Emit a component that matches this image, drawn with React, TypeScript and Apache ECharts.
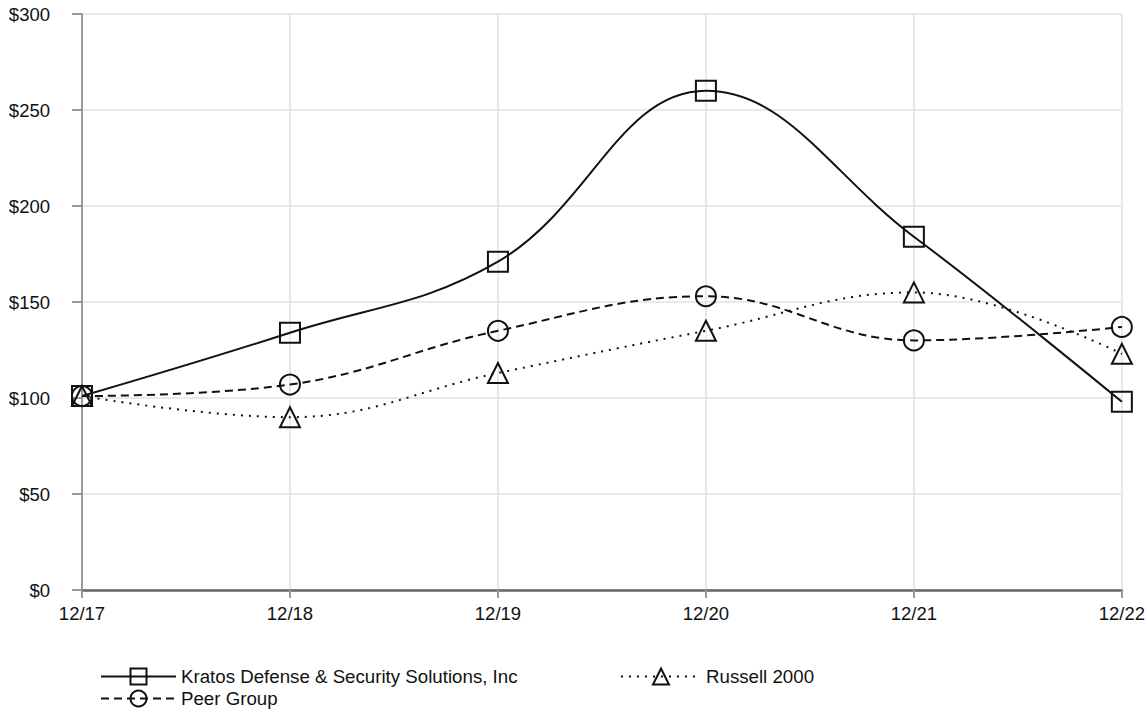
import React, { useEffect, useRef } from "react";
import * as echarts from "echarts";

const categories = ["12/17", "12/18", "12/19", "12/20", "12/21", "12/22"];
const kratos = [101, 134, 171, 260, 184, 98];
const peer = [101, 107, 135, 153, 130, 137];
const russell = [101, 90, 113, 135, 155, 123];
const seriesNames = ["Kratos Defense & Security Solutions, Inc", "Peer Group", "Russell 2000"];

export default function App() {
  const ref = useRef<HTMLDivElement>(null);
  useEffect(() => {
    const chart = echarts.init(ref.current!, null, { renderer: "svg" });
    const font = "Liberation Sans, Arial, sans-serif";
    const mk = (name: string, data: number[], symbol: string, type: any) => ({
      name,
      type: "line",
      data,
      smooth: 0.4,
      symbol,
      symbolSize: 20,
      showSymbol: true,
      lineStyle: { color: "#111", width: 2, type },
      itemStyle: { color: "rgba(0,0,0,0)", borderColor: "#111", borderWidth: 2 },
      emphasis: { disabled: true },
    });
    const legendBase = {
      orient: "vertical",
      itemHeight: 20,
      textStyle: { fontFamily: font, fontSize: 18.7, color: "#111" },
      selectedMode: false,
    };
    chart.setOption({
      animation: false,
      grid: { left: 82, right: 24, top: 14, bottom: 119 },
      legend: [
        { ...legendBase, itemWidth: 75, data: [seriesNames[0]], left: 95, top: 662 },
        { ...legendBase, itemWidth: 75, data: [seriesNames[1]], left: 95, top: 684 },
        { ...legendBase, itemWidth: 80, data: [seriesNames[2]], left: 615, top: 662 },
      ],
      xAxis: {
        type: "category",
        data: categories,
        boundaryGap: false,
        axisLine: { lineStyle: { color: "#666", width: 2.5 } },
        axisTick: { show: true, length: 8, lineStyle: { color: "#999", width: 2 } },
        axisLabel: { fontFamily: font, fontSize: 18.5, color: "#111", margin: 14 },
        splitLine: { show: true, lineStyle: { color: "#e2e2e2", width: 1.5 } },
      },
      yAxis: {
        type: "value",
        min: 0,
        max: 300,
        interval: 50,
        axisLine: { show: true, lineStyle: { color: "#999", width: 2 } },
        axisTick: { show: true, length: 10, lineStyle: { color: "#999", width: 2 } },
        axisLabel: { fontFamily: font, fontSize: 18.5, color: "#111", margin: 32, formatter: (v: number) => "$" + v },
        splitLine: { show: true, lineStyle: { color: "#e2e2e2", width: 1.5 } },
      },
      series: [
        mk(seriesNames[0], kratos, "rect", "solid"),
        mk(seriesNames[1], peer, "circle", [8, 5]),
        mk(seriesNames[2], russell, "triangle", [2, 6]),
      ],
    });
    return () => chart.dispose();
  }, []);
  return <div ref={ref} style={{ width: 1148, height: 709, position: "absolute", left: 0, top: 0 }} />;
}
